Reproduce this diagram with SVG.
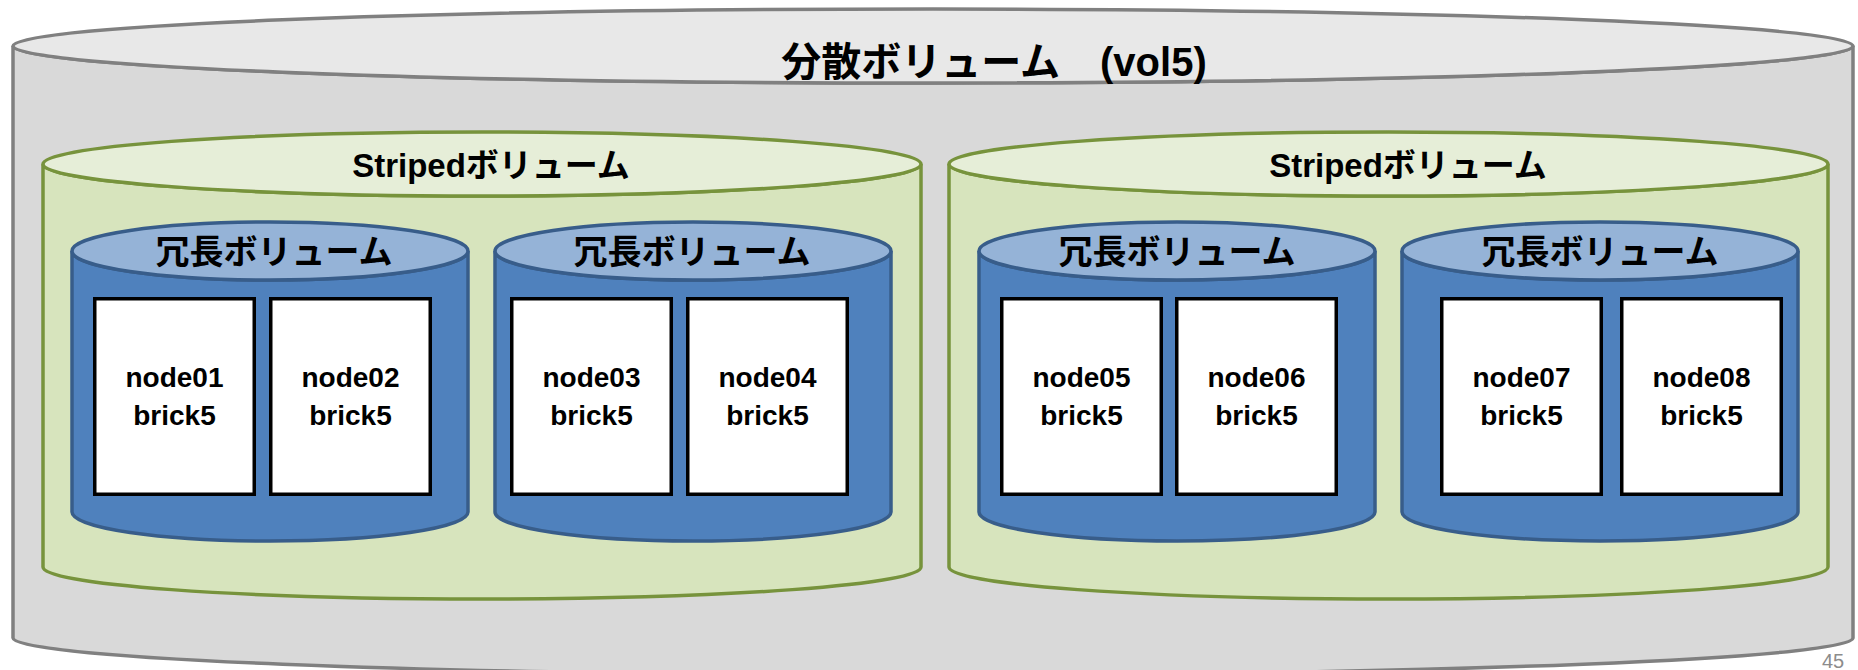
<svg xmlns="http://www.w3.org/2000/svg" width="1858" height="670" viewBox="0 0 1858 670">
<style>
.og{fill:#d9d9d9;stroke:#808080;stroke-width:3.5}
.ogt{fill:#e8e8e8;stroke:#808080;stroke-width:3.5}
.gr{fill:#d7e4bd;stroke:#77933c;stroke-width:3.5}
.grt{fill:#e6eed8;stroke:#77933c;stroke-width:3.5}
.bl{fill:#4f81bd;stroke:#385d8a;stroke-width:3.5}
.blt{fill:#95b3d7;stroke:#385d8a;stroke-width:3.5}
.brick{fill:#ffffff;stroke:#000000;stroke-width:3.5}
.t{font-family:"Liberation Sans","Noto Sans CJK JP",sans-serif;font-weight:bold;fill:#000000;text-anchor:middle}
.title{font-size:40px}
.st{font-size:33px}
.rd{font-size:34px}
.bt{font-size:28px}
.pg{font-family:"Liberation Sans",sans-serif;font-size:20px;fill:#8c8c8c}
</style>
<rect width="1858" height="670" fill="#ffffff"/>
<g id="dist-volume">
<path class="og" d="M13,46 L13,638 A920,37 0 0 0 1853,638 L1853,46 A920,37 0 0 1 13,46 Z"/>
<ellipse class="ogt" cx="933" cy="46" rx="920" ry="37"/>
<text class="t title" x="994" y="76">分散ボリューム　(vol5)</text>
</g>
<g id="striped-1">
<path class="gr" d="M43,164 L43,567 A439,32 0 0 0 921,567 L921,164 A439,32 0 0 1 43,164 Z"/>
<ellipse class="grt" cx="482" cy="164" rx="439" ry="32"/>
<text class="t st" x="491" y="177">Stripedボリューム</text>
</g>
<g id="striped-2">
<path class="gr" d="M949,164 L949,567 A439.5,32 0 0 0 1828,567 L1828,164 A439.5,32 0 0 1 949,164 Z"/>
<ellipse class="grt" cx="1388.5" cy="164" rx="439.5" ry="32"/>
<text class="t st" x="1408" y="177">Stripedボリューム</text>
</g>
<g id="replica-1">
<path class="bl" d="M72,251 L72,512 A198,29 0 0 0 468,512 L468,251 A198,29 0 0 1 72,251 Z"/>
<ellipse class="blt" cx="270" cy="251" rx="198" ry="29"/>
<text class="t rd" x="274" y="264">冗長ボリューム</text>
</g>
<g id="replica-2">
<path class="bl" d="M495,251 L495,512 A198,29 0 0 0 891,512 L891,251 A198,29 0 0 1 495,251 Z"/>
<ellipse class="blt" cx="693" cy="251" rx="198" ry="29"/>
<text class="t rd" x="692" y="264">冗長ボリューム</text>
</g>
<g id="replica-3">
<path class="bl" d="M979,251 L979,512 A198,29 0 0 0 1375,512 L1375,251 A198,29 0 0 1 979,251 Z"/>
<ellipse class="blt" cx="1177" cy="251" rx="198" ry="29"/>
<text class="t rd" x="1177" y="264">冗長ボリューム</text>
</g>
<g id="replica-4">
<path class="bl" d="M1402,251 L1402,512 A198,29 0 0 0 1798,512 L1798,251 A198,29 0 0 1 1402,251 Z"/>
<ellipse class="blt" cx="1600" cy="251" rx="198" ry="29"/>
<text class="t rd" x="1600" y="264">冗長ボリューム</text>
</g>
<g id="node01"><rect class="brick" x="94.75" y="298.75" width="159.5" height="195.5"/><text class="t bt" x="174.5" y="387">node01</text><text class="t bt" x="174.5" y="425">brick5</text></g>
<g id="node02"><rect class="brick" x="270.75" y="298.75" width="159.5" height="195.5"/><text class="t bt" x="350.5" y="387">node02</text><text class="t bt" x="350.5" y="425">brick5</text></g>
<g id="node03"><rect class="brick" x="511.75" y="298.75" width="159.5" height="195.5"/><text class="t bt" x="591.5" y="387">node03</text><text class="t bt" x="591.5" y="425">brick5</text></g>
<g id="node04"><rect class="brick" x="687.75" y="298.75" width="159.5" height="195.5"/><text class="t bt" x="767.5" y="387">node04</text><text class="t bt" x="767.5" y="425">brick5</text></g>
<g id="node05"><rect class="brick" x="1001.75" y="298.75" width="159.5" height="195.5"/><text class="t bt" x="1081.5" y="387">node05</text><text class="t bt" x="1081.5" y="425">brick5</text></g>
<g id="node06"><rect class="brick" x="1176.75" y="298.75" width="159.5" height="195.5"/><text class="t bt" x="1256.5" y="387">node06</text><text class="t bt" x="1256.5" y="425">brick5</text></g>
<g id="node07"><rect class="brick" x="1441.75" y="298.75" width="159.5" height="195.5"/><text class="t bt" x="1521.5" y="387">node07</text><text class="t bt" x="1521.5" y="425">brick5</text></g>
<g id="node08"><rect class="brick" x="1621.75" y="298.75" width="159.5" height="195.5"/><text class="t bt" x="1701.5" y="387">node08</text><text class="t bt" x="1701.5" y="425">brick5</text></g>
<g id="connectors"></g>
<text class="pg" x="1822" y="668">45</text>
</svg>
